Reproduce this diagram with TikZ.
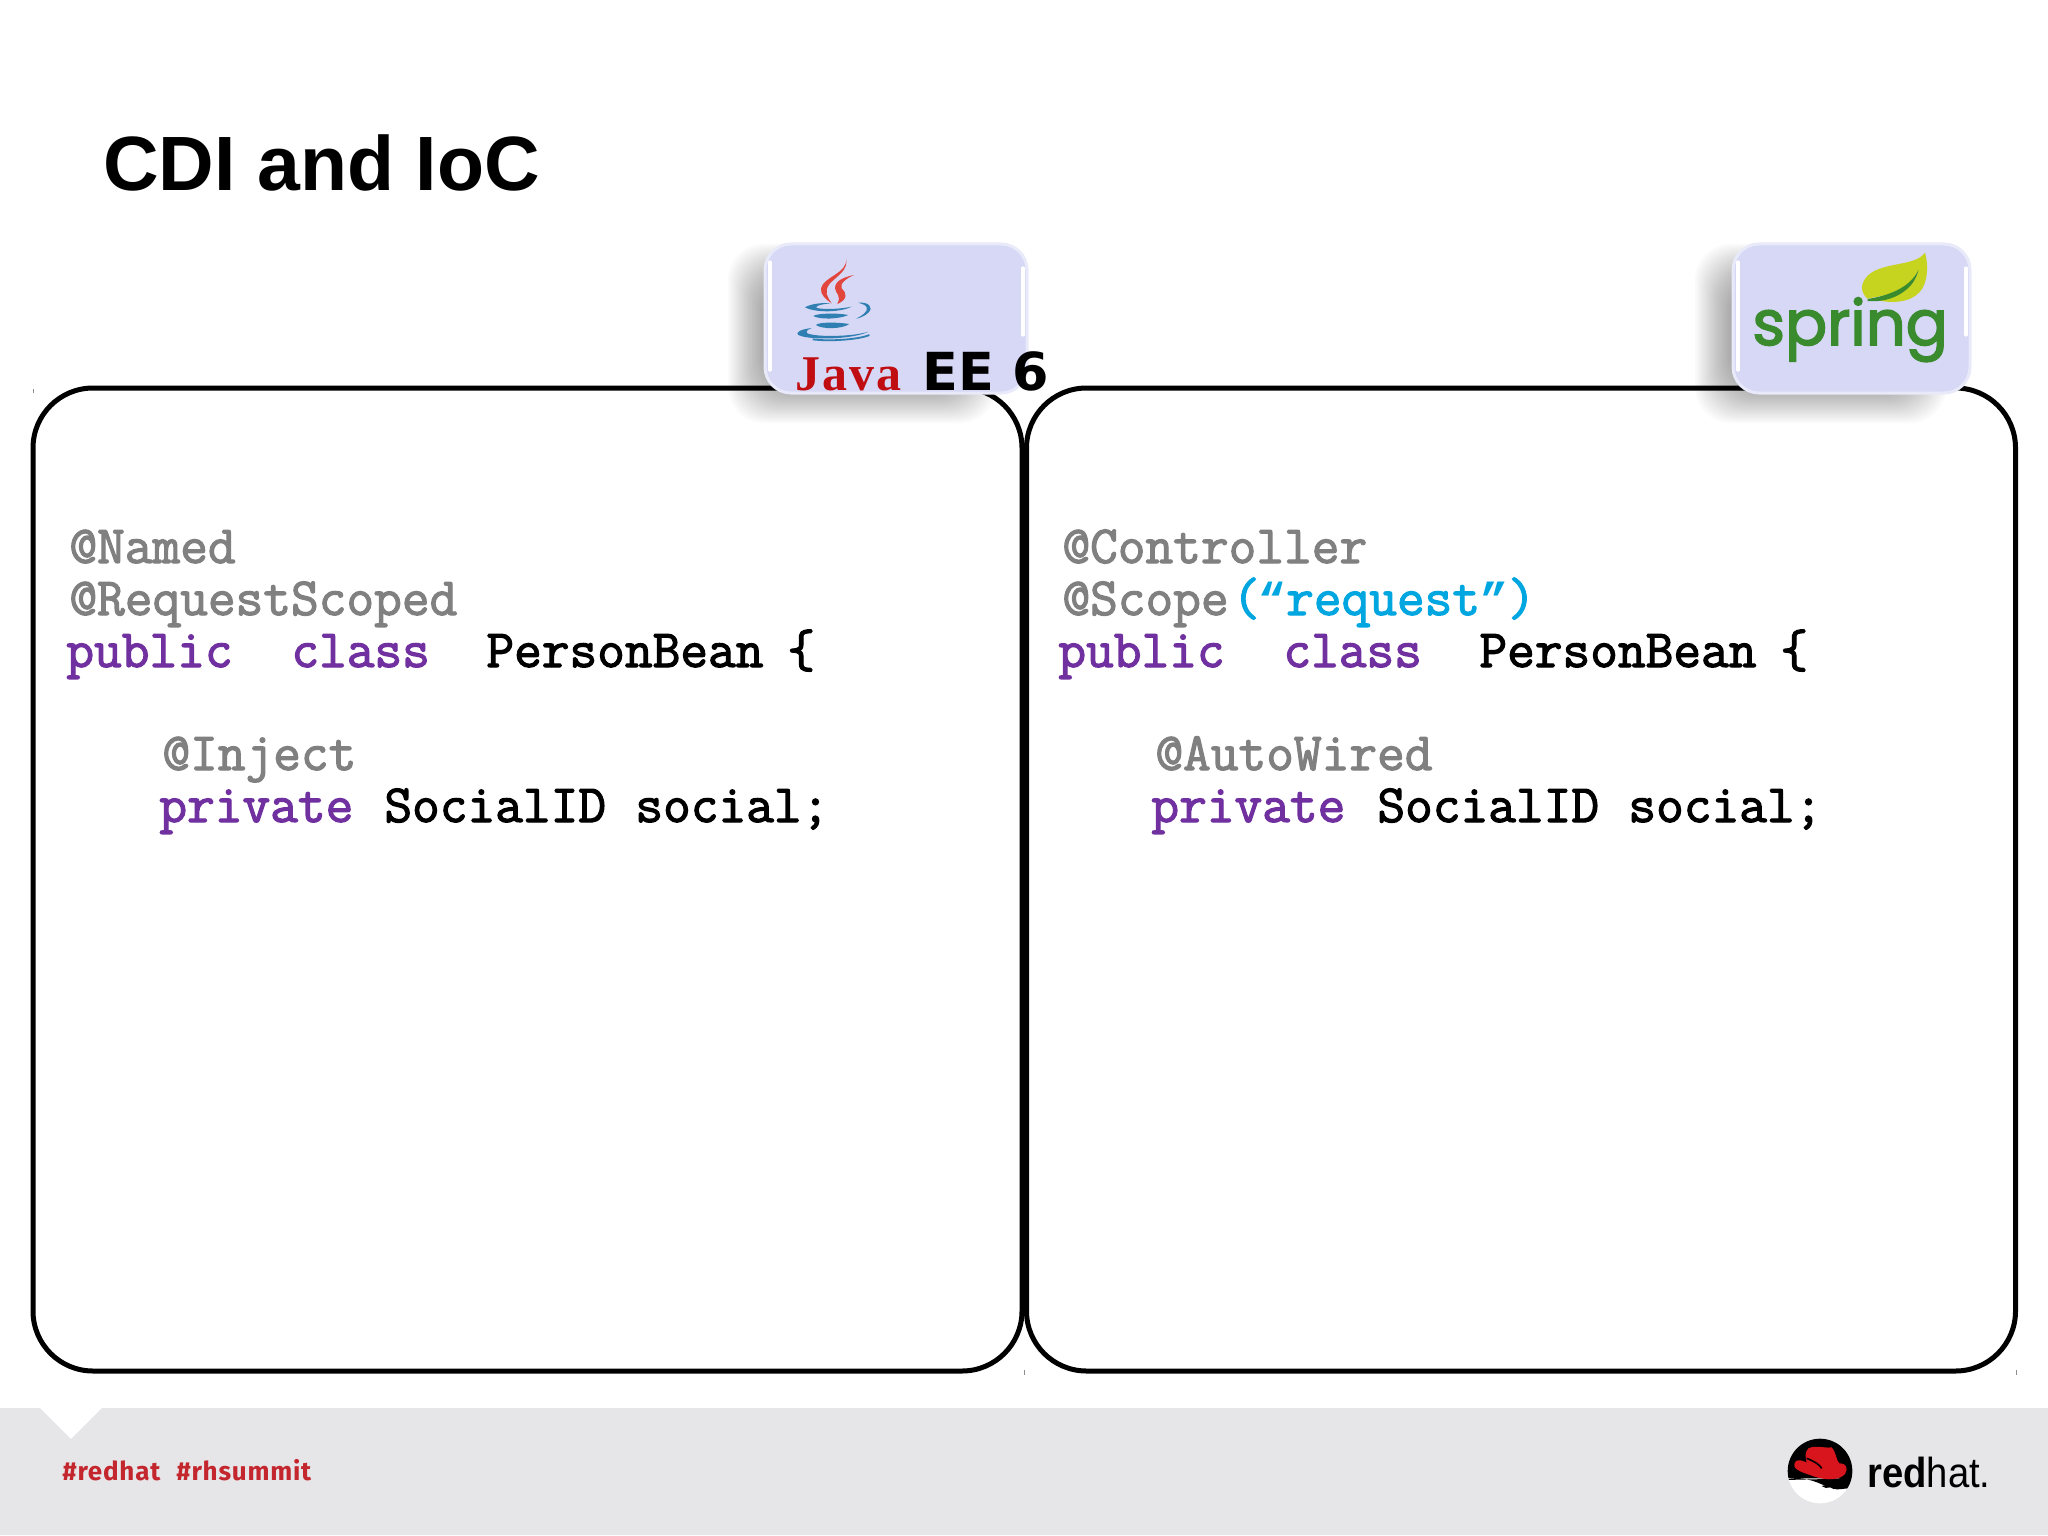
\documentclass[tikz,border=0pt]{standalone}
\usepackage{fontspec}
\setmainfont{Liberation Sans}
\newfontfamily\codefont[FakeBold=2.2]{Latin Modern Mono}
\newfontfamily\quotefont{Liberation Mono}
\newfontfamily\javafont[LetterSpace=4]{Liberation Serif}
\newfontfamily\eefont{DejaVu Sans}
\newfontfamily\springfont[FakeBold=2.5]{Poppins}
\newfontfamily\tagfont[LetterSpace=3]{Fira Sans}
\definecolor{codegray}{HTML}{808080}
\definecolor{codepurple}{HTML}{7030A0}
\definecolor{codeblue}{HTML}{00A6E0}
\definecolor{badgefill}{HTML}{D6D8F5}
\definecolor{footgray}{HTML}{E6E5E7}
\definecolor{tagred}{HTML}{C4262E}
\definecolor{javared}{HTML}{C00D12}
\definecolor{flamered}{HTML}{E2453C}
\definecolor{cupblue}{HTML}{2F7FB2}
\definecolor{springgreen}{HTML}{3A8A2E}
\definecolor{leafgreen}{HTML}{C6D420}
\definecolor{hatred}{HTML}{D8141C}
\tikzset{
  panel/.style={draw=black,line width=2.5pt,rounded corners=30pt,fill=white,inner sep=0,minimum width=494.5pt,minimum height=491.5pt},
  code/.style={anchor=base west,inner sep=0,font=\codefont\fontsize{26.9}{28}\selectfont},
  anno/.style={code,text=codegray},
  kw/.style={code,text=codepurple},
  plain/.style={code,text=black},
  badge/.style={fill=badgefill,draw=badgefill!55!white,line width=1.5pt,rounded corners=13pt},
  shine/.style={draw=white,line width=1.6pt,line cap=round},
  tick/.style={draw=black!45,line width=0.4pt},
  tag/.style={anchor=base west,inner sep=0,text=tagred,font=\tagfont\fontsize{13}{16}\selectfont\bfseries}
}
\newcommand{\softshadow}[4]{%
  \foreach \i in {0,...,17}{
    \fill[black,opacity=0.021,rounded corners=18pt]
      ({#1-18+2*\i},{#2-18+2*\i}) rectangle ({#3+18-2*\i},{#4+18-2*\i});
  }}
\newcommand{\qmark}[1]{{\quotefont\bfseries\fontsize{23.1}{24}\selectfont #1}}
\begin{document}
\begin{tikzpicture}[x=0.5pt,y=-0.5pt]
\useasboundingbox (0,0) rectangle (2048,1535);
\fill[white] (0,0) rectangle (2048,1535);
% footer
\fill[footgray] (0,1408) -- (40,1408) -- (71,1439) -- (102,1408) -- (2048,1408) -- (2048,1535) -- (0,1535) -- cycle;
\node[tag] (tag1) at (62,1480) {\#redhat};
\node[tag] (tag2) at (176,1480) {\#rhsummit};
% title
\node[anchor=base west,inner sep=0,font=\bfseries\fontsize{38.5}{40}\selectfont] (title) at (103,191) {CDI and IoC};
% panels
\node[panel] (lp) at (527.5,879.5) {};
\node[panel] (rp) at (1521,879.5) {};
\draw[tick] (33,389) -- (33,393);
\draw[tick] (1024,1370) -- (1024,1375);
\draw[tick] (2016,1370) -- (2016,1375);
% left code
\node[anno] (a1) at (69,563) {@Named};
\node[anno] (a2) at (69,615) {@RequestScoped};
\node[kw] (a3) at (66,667) {public};
\node[kw] (a4) at (291,667) {class};
\node[plain] (a5) at (486,667) {PersonBean};
\node[plain] (a6) at (787,667) {\{};
\node[anno] (a7) at (162,770) {@Inject};
\node[kw] (a8) at (159,822) {private};
\node[plain] (a9) at (384,822) {SocialID};
\node[plain] (a10) at (635,822) {social;};
% right code
\node[anno] (b1) at (1062,563) {@Controller};
\node[anno] (b2) at (1062,615) {@Scope};
\node[code,text=codeblue] (b2a) at (1232,615) {(};
\node[code,text=codeblue] (b2b) at (1258,615) {\qmark{“}request\qmark{”})};
\node[kw] (b3) at (1058,667) {public};
\node[kw] (b4) at (1283,667) {class};
\node[plain] (b5) at (1479,667) {PersonBean};
\node[plain] (b6) at (1780,667) {\{};
\node[anno] (b7) at (1155,770) {@AutoWired};
\node[kw] (b8) at (1151,822) {private};
\node[plain] (b9) at (1377,822) {SocialID};
\node[plain] (b10) at (1628,822) {social;};
% left badge
\softshadow{746}{262}{978}{405}
\path[badge] (765,244) rectangle (1027,393);
\draw[shine] (770,262) -- (770,370);
\draw[shine] (1023,268) -- (1023,335);
% right badge
\softshadow{1713}{262}{1928}{405}
\path[badge] (1733,244) rectangle (1970,393);
\draw[shine] (1738,262) -- (1738,370);
\draw[shine] (1966,268) -- (1966,335);
% java logo
\begin{scope}[shift={(720,220)},x=0.16667pt,y=-0.16667pt]
\fill[flamered] (378,115) .. controls (385,160) and (310,170) .. (303,205) .. controls (300,225) and (320,240) .. (335,250) .. controls (322,230) and (310,215) .. (330,190) .. controls (355,165) and (385,150) .. (378,115) -- cycle;
\fill[flamered] (402,165) .. controls (370,172) and (345,182) .. (345,205) .. controls (347,222) and (365,225) .. (352,252) .. controls (385,238) and (380,218) .. (365,205) .. controls (358,190) and (380,175) .. (402,165) -- cycle;
\fill[cupblue] (255,262) .. controls (275,250) and (310,248) .. (332,250) .. controls (300,253) and (285,258) .. (290,264) .. controls (320,270) and (365,266) .. (395,260) .. controls (365,276) and (290,280) .. (255,262) -- cycle;
\fill[cupblue] (280,288) .. controls (290,280) and (350,278) .. (385,285) .. controls (360,297) and (300,300) .. (280,288) -- cycle;
\fill[cupblue] (288,315) .. controls (295,306) and (350,306) .. (388,312) .. controls (365,328) and (305,328) .. (288,315) -- cycle;
\fill[cupblue] (415,248) .. controls (445,245) and (462,262) .. (445,278) .. controls (435,288) and (420,294) .. (408,296) .. controls (425,288) and (445,275) .. (440,262) .. controls (437,254) and (425,252) .. (415,248) -- cycle;
\fill[cupblue] (275,324) .. controls (240,328) and (225,338) .. (235,345) .. controls (270,362) and (400,358) .. (445,335) .. controls (400,350) and (290,352) .. (262,340) .. controls (255,334) and (265,328) .. (275,324) -- cycle;
\draw[cupblue,line width=0.9pt] (278,358) .. controls (330,365) and (420,358) .. (448,345);
\end{scope}
% java ee text
\node[anchor=base west,inner sep=0,text=javared,font=\javafont\bfseries\fontsize{25}{28}\selectfont] (java) at (795,390) {Java};
\node[anchor=base west,inner sep=0,font=\eefont\bfseries\fontsize{26.2}{28}\selectfont] (ee) at (922,390) {EE 6};
% spring logo
\begin{scope}[shift={(1680,220)},x=0.16667pt,y=-0.16667pt]
\fill[leafgreen] (735,98) .. controls (705,140) and (610,125) .. (565,165) .. controls (540,190) and (540,215) .. (562,236) .. controls (610,225) and (680,225) .. (715,150) .. controls (705,205) and (650,232) .. (590,240) .. controls (630,250) and (690,250) .. (720,215) .. controls (745,185) and (745,135) .. (735,98) -- cycle;
\fill[springgreen] (563,237) .. controls (620,228) and (690,205) .. (715,150) .. controls (705,205) and (640,250) .. (563,243) -- cycle;
\end{scope}
\node[anchor=base west,inner sep=0,text=springgreen,font=\springfont\fontsize{31.2}{34}\selectfont] (spring) at (1752,345) {spring};
% red hat logo
\begin{scope}[shift={(1740,1400)},x=0.16667pt,y=-0.16667pt]
\fill[white] (240,213) circle (97);
\begin{scope}
\clip (240,213) circle (97);
\fill[black] (130,100) rectangle (350,235) -- (350,265) .. controls (310,262) and (290,275) .. (270,262) .. controls (240,255) and (210,225) .. (130,240) -- cycle;
\end{scope}
\fill[hatred] (205,145) .. controls (225,135) and (255,145) .. (275,142) .. controls (290,160) and (290,185) .. (298,190) .. controls (320,190) and (325,205) .. (315,222) .. controls (295,245) and (245,240) .. (210,225) .. controls (180,215) and (150,205) .. (168,183) .. controls (175,178) and (190,182) .. (200,188) .. controls (195,170) and (195,155) .. (205,145) -- cycle;
\draw[black,line width=0.8pt] (200,175) .. controls (225,185) and (240,195) .. (245,205);
\fill[black] (245,258) .. controls (255,254) and (265,256) .. (270,262) .. controls (262,266) and (252,264) .. (245,258) -- cycle;
\end{scope}
\node[anchor=base west,inner sep=0,xscale=0.91,font=\fontsize{21}{22}\selectfont] (rh) at (1867,1487) {\textbf{red}hat.};
\end{tikzpicture}
\end{document}
